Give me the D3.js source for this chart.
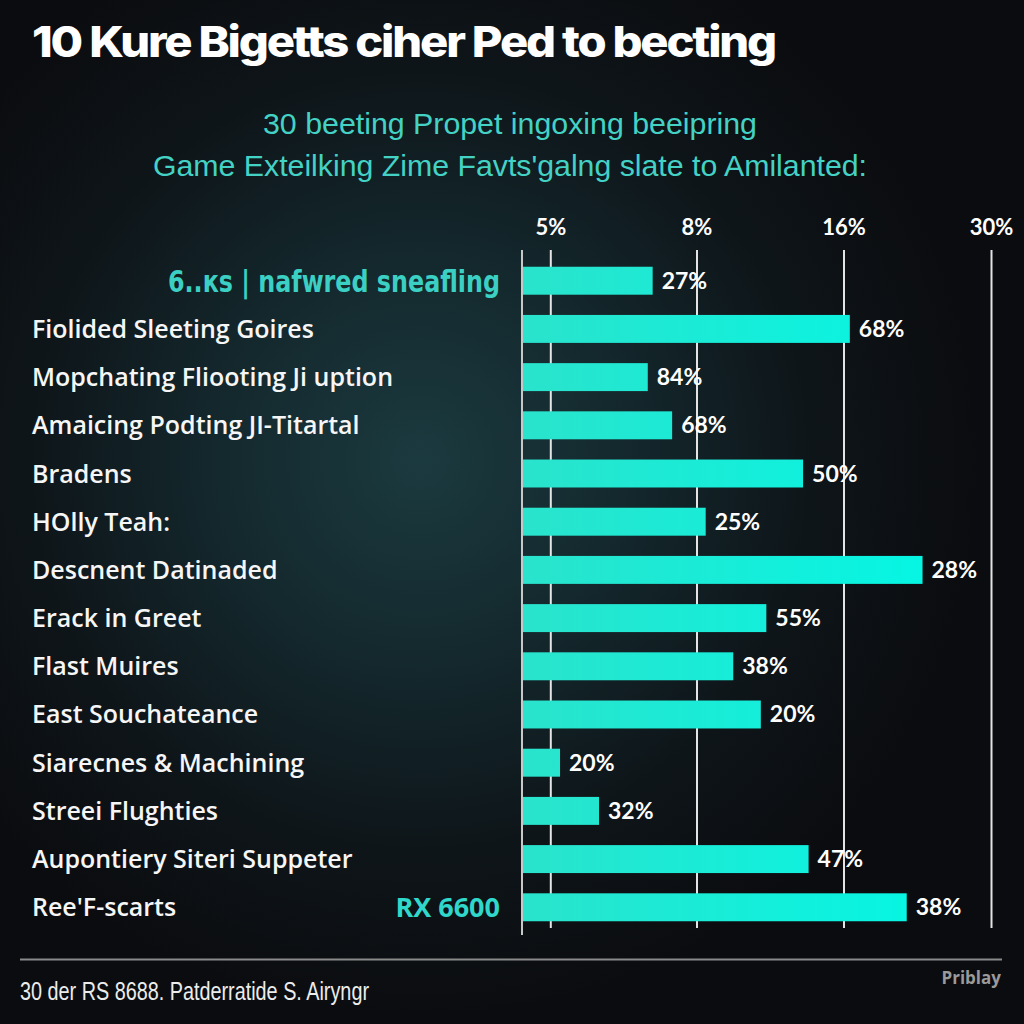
<!DOCTYPE html>
<html><head><meta charset="utf-8">
<script src="https://cdn.jsdelivr.net/npm/d3@7"></script>
<style>html,body{margin:0;padding:0;background:#0b0c0f;}svg{display:block;}</style>
</head><body>
<svg id="chart" width="1024" height="1024"></svg>
<script>
// ---- data ----
const categories = [
  "6..кs | nafwred sneafling",
  "Fiolided Sleeting Goires",
  "Mopchating Fliooting Ji uption",
  "Amaicing Podting JI-Titartal",
  "Bradens",
  "HOlly Teah:",
  "Descnent Datinaded",
  "Erack in Greet",
  "Flast Muires",
  "East Souchateance",
  "Siarecnes & Machining",
  "Streei Flughties",
  "Aupontiery Siteri Suppeter",
  "Ree'F-scarts"
];
const barValues = [7.1, 16.6, 7.0, 7.5, 13.8, 8.5, 23.5, 11.8, 10.0, 11.5, 5.2, 6.0, 14.1, 22.0];
const valueLabels = ["27%","68%","84%","68%","50%","25%","28%","55%","38%","20%","20%","32%","47%","38%"];
const tickValues = [5, 8, 16, 30];
const axisDomain = [0, 5, 8, 16, 30];
const titleText = "10 Kure Bigetts ciher Ped to becting";
const subtitleLines = ["30 beeting Propet ingoxing beeipring", "Game Exteilking Zime Favts'galng slate to Amilanted:"];
const highlightRow = 0;
const extraTag = {row: 13, text: "RX 6600"};
const footerText = "30 der RS 8688. Patderratide S. Airyngr";
const brandText = "Priblay";

// ---- drawing ----
const svg = d3.select("#chart");
const defs = svg.append("defs");
const bg = defs.append("radialGradient").attr("id","bg")
  .attr("gradientUnits","userSpaceOnUse").attr("cx",420).attr("cy",460).attr("r",560);
bg.append("stop").attr("offset",0).attr("stop-color","#1b3a3f");
bg.append("stop").attr("offset",0.35).attr("stop-color","#14292e");
bg.append("stop").attr("offset",0.7).attr("stop-color","#0e1519");
bg.append("stop").attr("offset",1).attr("stop-color","#0b0c0f");
svg.append("rect").attr("width",1024).attr("height",1024).attr("fill","url(#bg)");

const x = d3.scaleLinear().domain(axisDomain).range([522, 550.3, 696.5, 843.5, 991]);
const y = d3.scaleBand().domain(d3.range(categories.length)).range([246.5, 941.5]).paddingInner(0.42).paddingOuter(0.42);

const barGrad = defs.append("linearGradient").attr("id","barg")
  .attr("gradientUnits","userSpaceOnUse").attr("x1",522).attr("x2",930).attr("y1",0).attr("y2",0);
barGrad.append("stop").attr("offset",0).attr("stop-color","#2ae3cc");
barGrad.append("stop").attr("offset",1).attr("stop-color","#05f6e4");

// title
svg.append("text").attr("x",32).attr("y",57).text(titleText)
  .attr("fill","#ffffff").attr("font-family","Inter, 'Open Sans', sans-serif")
  .attr("font-weight",800).attr("font-size",43).attr("letter-spacing",-2)
  .attr("textLength",743).attr("lengthAdjust","spacingAndGlyphs");

// subtitle
const subW = [494, 714];
svg.selectAll("text.sub").data(subtitleLines).join("text").attr("class","sub")
  .attr("x",510).attr("y",(d,i)=>134+i*42).attr("text-anchor","middle")
  .attr("fill","#44d2c5").attr("font-family","'Liberation Sans Narrow','Liberation Sans',Arial,sans-serif")
  .attr("font-size",29).attr("textLength",(d,i)=>subW[i]).attr("lengthAdjust","spacingAndGlyphs")
  .text(d=>d);

// grid + top axis
const gridTop = 250, gridBottom = 928;
const axis = d3.axisTop(x).tickValues(tickValues).tickFormat(d=>d+"%")
  .tickSizeInner(-(gridBottom-gridTop)).tickSizeOuter(0).tickPadding(15);
const ag = svg.append("g").attr("transform",`translate(0,${gridTop})`).call(axis);
ag.select(".domain").remove();
ag.selectAll(".tick line").attr("stroke","#e4e4e4").attr("stroke-width",2);
ag.selectAll(".tick text").attr("fill","#ffffff").attr("font-family","Lato, 'Open Sans', sans-serif")
  .attr("font-weight",700).attr("font-size",22);

// baseline
svg.append("line").attr("x1",x(0)).attr("x2",x(0)).attr("y1",gridTop).attr("y2",935)
  .attr("stroke","#c8c8c8").attr("stroke-width",2);

// bars
svg.selectAll("rect.bar").data(barValues).join("rect").attr("class","bar")
  .attr("x",x(0)+1).attr("y",(d,i)=>y(i)).attr("height",y.bandwidth())
  .attr("width",d=>x(d)-x(0)-1).attr("fill","url(#barg)");

// value labels
svg.selectAll("text.val").data(barValues).join("text").attr("class","val")
  .attr("x",d=>x(d)+9).attr("y",(d,i)=>y(i)+y.bandwidth()/2+8)
  .attr("fill","#ffffff").attr("font-family","Lato, 'Open Sans', sans-serif")
  .attr("font-weight",700).attr("font-size",23)
  .text((d,i)=>valueLabels[i]);

// category labels
svg.selectAll("text.cat").data(categories).join("text").attr("class","cat")
  .each(function(d,i){
    const t = d3.select(this);
    if (i === highlightRow) {
      t.attr("x",500).attr("y",y(i)+y.bandwidth()/2+11).attr("text-anchor","end")
        .attr("fill","#3bd0c3").attr("font-family","'DejaVu Sans Condensed','DejaVu Sans',sans-serif")
        .attr("font-weight",700).attr("font-size",30)
        .attr("textLength",332).attr("lengthAdjust","spacingAndGlyphs");
    } else {
      t.attr("x",32).attr("y",y(i)+y.bandwidth()/2+9)
        .attr("fill","#f6f6f6").attr("font-family","'Open Sans', sans-serif")
        .attr("font-weight",600).attr("font-size",25).attr("letter-spacing",0);
    }
  }).text(d=>d);

// extra tag
svg.append("text").attr("x",500).attr("y",y(extraTag.row)+y.bandwidth()/2+10)
  .attr("text-anchor","end").attr("fill","#2fd8cb")
  .attr("font-family","'Open Sans', sans-serif").attr("font-weight",700).attr("font-size",27)
  .text(extraTag.text);

// footer
svg.append("line").attr("x1",20).attr("x2",1002).attr("y1",959.5).attr("y2",959.5)
  .attr("stroke","#8a8a8a").attr("stroke-width",2);
svg.append("text").attr("x",20).attr("y",1000).text(footerText)
  .attr("fill","#ececec").attr("font-family","'Liberation Sans Narrow','Liberation Sans',Arial,sans-serif")
  .attr("font-size",25).attr("textLength",349).attr("lengthAdjust","spacingAndGlyphs");
svg.append("text").attr("x",1001).attr("y",984).attr("text-anchor","end").text(brandText)
  .attr("fill","#9a9a9a").attr("font-family","'Open Sans', sans-serif")
  .attr("font-weight",700).attr("font-size",17);
</script>
</body></html>
